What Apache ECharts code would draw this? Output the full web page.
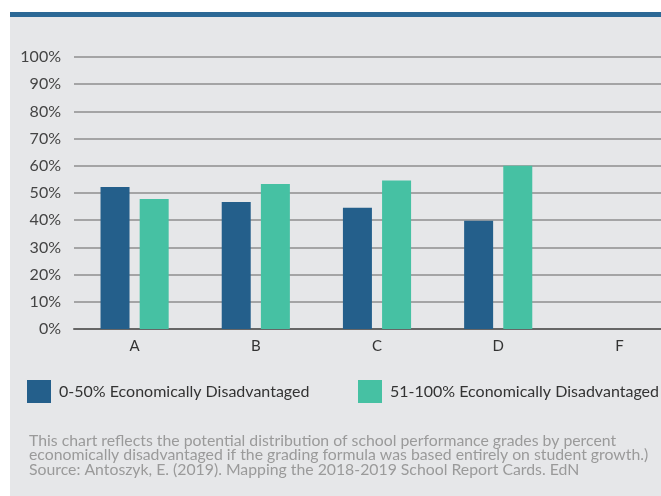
<!DOCTYPE html>
<html>
<head>
<meta charset="utf-8">
<script src="https://cdn.jsdelivr.net/npm/echarts@6/dist/echarts.min.js"></script>
<style>
  html, body { margin: 0; padding: 0; background: #ffffff; }
  #chart { width: 661px; height: 496px; }
</style>
</head>
<body>
<div id="chart"></div>
<script>
// School performance grade distribution by share of economically disadvantaged students
const grades = ['A', 'B', 'C', 'D', 'F'];
const lowDisadvantaged = [52.2, 46.7, 44.6, 39.8, 0];   // 0-50% Economically Disadvantaged
const highDisadvantaged = [47.8, 53.3, 54.6, 60.0, 0];  // 51-100% Economically Disadvantaged
const seriesNames = ['0-50% Economically Disadvantaged', '51-100% Economically Disadvantaged'];
const yTicks = [0, 10, 20, 30, 40, 50, 60, 70, 80, 90, 100];
const captionLines = [
  'This chart reflects the potential distribution of school performance grades by percent',
  'economically disadvantaged if the grading formula was based entirely on student growth.)',
  'Source: Antoszyk, E. (2019). Mapping the 2018-2019 School Report Cards. EdN'
];

const FONT = 'Lato, "Open Sans", sans-serif';
const DARK = '#245f8b';
const GREEN = '#46c1a3';

const chart = echarts.init(document.getElementById('chart'), null, { renderer: 'canvas' });

const legendBase = {
  top: 380,
  orient: 'horizontal',
  padding: 0,
  itemWidth: 24,
  itemHeight: 23,
  icon: 'rect',
  selectedMode: false,
  textStyle: { fontFamily: FONT, fontSize: 16, color: '#333333', padding: [2, 0, 0, 3] }
};

chart.setOption({
  backgroundColor: '#ffffff',
  animation: false,
  graphic: [
    { type: 'rect', z: -10, shape: { x: 10, y: 17, width: 651, height: 479 }, style: { fill: '#e6e7e9' } },
    { type: 'rect', z: -10, shape: { x: 10, y: 12, width: 651, height: 5 }, style: { fill: '#2c6996' } },
    {
      type: 'text', left: 29, top: 433,
      style: {
        text: captionLines.join('\n'),
        fontFamily: FONT, fontSize: 15.8, lineHeight: 14.3, fill: '#9a9a9a'
      }
    }
  ],
  legend: [
    Object.assign({}, legendBase, { left: 27, data: [seriesNames[0]] }),
    Object.assign({}, legendBase, { left: 358, data: [seriesNames[1]] })
  ],
  // the last band runs past the right edge of the page
  grid: { left: 74, top: 57, width: 606, height: 272, containLabel: false, outerBoundsMode: 'none' },
  xAxis: {
    type: 'category',
    data: grades,
    axisTick: { show: false },
    axisLine: { lineStyle: { color: '#666666', width: 2 } },
    axisLabel: { fontFamily: FONT, fontSize: 15, color: '#333333', margin: 10 }
  },
  yAxis: {
    type: 'value',
    min: yTicks[0],
    max: yTicks[yTicks.length - 1],
    interval: yTicks[1] - yTicks[0],
    axisLine: { show: false },
    axisTick: { show: false },
    axisLabel: { fontFamily: FONT, fontSize: 16, color: '#444444', margin: 13, formatter: '{value}%' },
    splitLine: { lineStyle: { color: '#8e8e8e', width: 1.5 } }
  },
  series: [
    {
      name: seriesNames[0], type: 'bar', data: lowDisadvantaged,
      barWidth: 29, barGap: '35%',
      itemStyle: { color: DARK }
    },
    {
      name: seriesNames[1], type: 'bar', data: highDisadvantaged,
      barWidth: 29, barGap: '35%',
      itemStyle: { color: GREEN }
    }
  ]
});
</script>
</body>
</html>
